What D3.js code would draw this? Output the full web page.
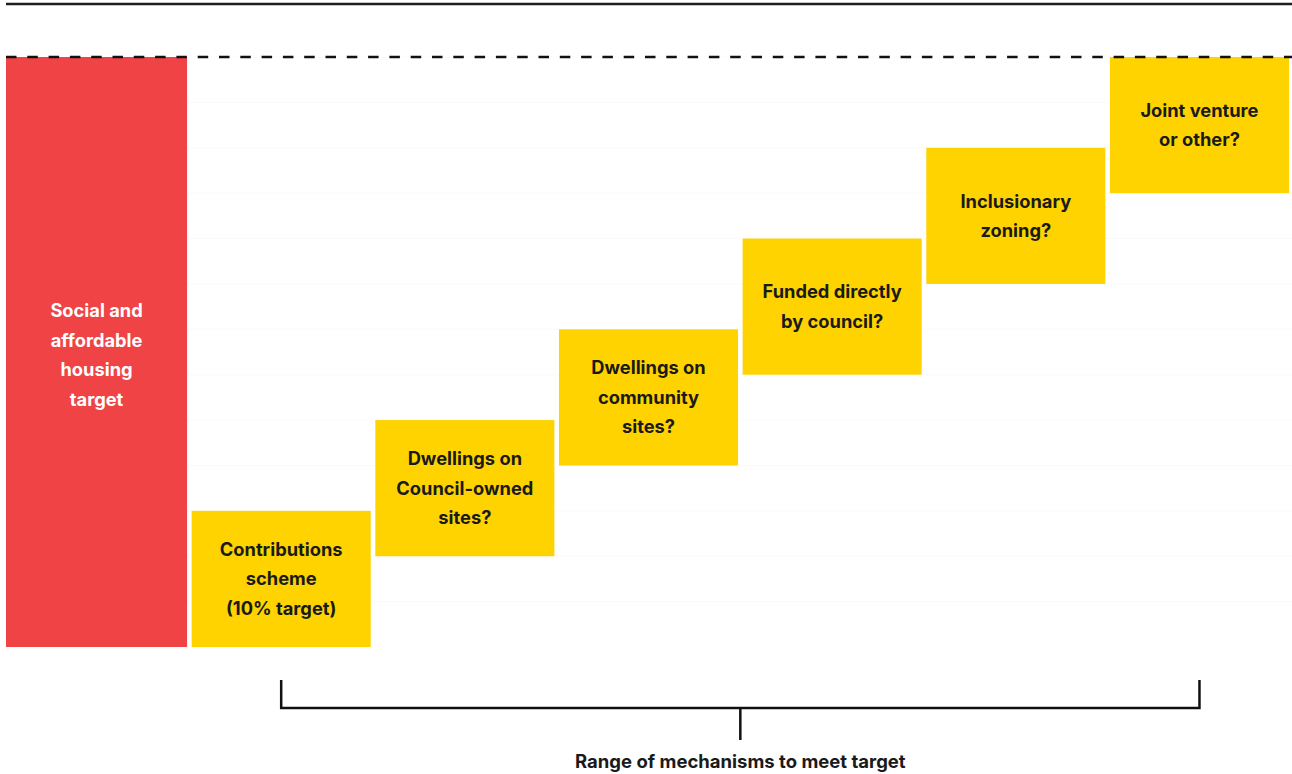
<!DOCTYPE html>
<html><head><meta charset="utf-8">
<script src="https://cdn.jsdelivr.net/npm/d3@7"></script>
<style>
html,body{margin:0;padding:0;background:#fff;}
svg{display:block;font-family:Inter,Lato,"Open Sans",sans-serif;}
</style></head>
<body>
<svg id="chart" width="1292" height="774"></svg>
<script>
const categories = ["target","c1","c2","c3","c4","c5","c6"];
const labels = [
  ["Social and","affordable","housing","target"],
  ["Contributions","scheme","(10% target)"],
  ["Dwellings on","Council-owned","sites?"],
  ["Dwellings on","community","sites?"],
  ["Funded directly","by council?"],
  ["Inclusionary","zoning?"],
  ["Joint venture","or other?"]
];
const starts = [0, 0, 2, 4, 6, 8, 10];
const ends   = [13, 3, 5, 7, 9, 11, 13];
const targetValue = 13;
const gridTicks = d3.range(1, 14);
const bracketLabel = "Range of mechanisms to meet target";

const svg = d3.select("#chart");
const x = d3.scaleBand().domain(categories).range([8, 1289]).paddingInner(0.025).paddingOuter(0);
const y = d3.scaleLinear().domain([0, targetValue]).range([647, 57]);

// faint gridlines
svg.append("g").selectAll("line").data(gridTicks).join("line")
  .attr("x1", 6).attr("x2", 1292)
  .attr("y1", d => y(d)).attr("y2", d => y(d))
  .attr("stroke", "#fdf9f9").attr("stroke-width", 1);

// top solid line
svg.append("line").attr("x1", 6).attr("x2", 1292).attr("y1", 4).attr("y2", 4)
  .attr("stroke", "#1e1e1e").attr("stroke-width", 2.5);

// bars
svg.append("g").selectAll("rect").data(categories).join("rect")
  .attr("x", (d,i) => x(d) - (i===0 ? 2 : 0))
  .attr("width", (d,i) => x.bandwidth() + (i===0 ? 2 : 0))
  .attr("y", (d,i) => y(ends[i]))
  .attr("height", (d,i) => y(starts[i]) - y(ends[i]))
  .attr("fill", (d,i) => i===0 ? "#ef4346" : "#ffd300");

// dashed target line
svg.append("line").attr("x1", 6).attr("x2", 1292).attr("y1", y(targetValue)).attr("y2", y(targetValue))
  .attr("stroke", "#111").attr("stroke-width", 2.6).attr("stroke-dasharray", "10.5,10.8");

// labels
const lh = 29.5;
categories.forEach((c,i) => {
  const cx = x(c) + x.bandwidth()/2 - (i===0 ? 1 : 0);
  const cy = (y(starts[i]) + y(ends[i]))/2 + (i===0 ? 3 : 0);
  const n = labels[i].length;
  const t = svg.append("text").attr("text-anchor","middle")
    .attr("font-weight", 700).attr("font-size", 18.3)
    .attr("fill", i===0 ? "#ffffff" : "#1a1a1a");
  labels[i].forEach((line, k) => {
    t.append("tspan").attr("x", cx)
      .attr("y", cy + (k - (n-1)/2)*lh).attr("dy", "0.35em").text(line);
  });
});

// bracket
const bL = x("c1") + x.bandwidth()/2, bR = x("c6") + x.bandwidth()/2;
const bm = (bL + bR)/2;
const bracket = d3.path();
bracket.moveTo(bL, 680); bracket.lineTo(bL, 708); bracket.lineTo(bR, 708); bracket.lineTo(bR, 680);
bracket.moveTo(bm, 708); bracket.lineTo(bm, 740);
svg.append("path").attr("d", bracket.toString()).attr("fill","none")
  .attr("stroke","#111").attr("stroke-width",2.5);
svg.append("text").attr("x", bm).attr("y", 762).attr("dy","0.35em")
  .attr("text-anchor","middle").attr("font-weight",700).attr("font-size",18.5)
  .attr("fill","#1a1a1a").text(bracketLabel);
</script>
</body></html>
